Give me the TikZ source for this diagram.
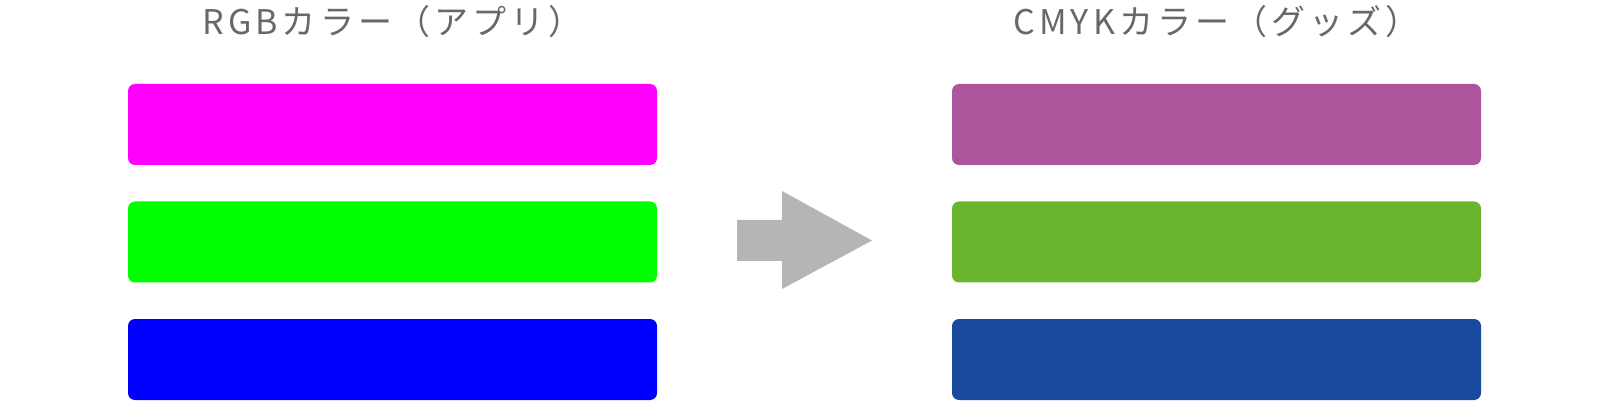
\documentclass[tikz,border=0pt]{standalone}
\usepackage{fontspec}
\setmainfont{Noto Sans CJK JP}
\newfontfamily\titlefont[LetterSpace=12]{Noto Sans CJK JP}
\definecolor{titlegray}{HTML}{686868}
\definecolor{arrowgray}{HTML}{B5B5B5}
\definecolor{rgbm}{HTML}{FF00FF}
\definecolor{rgbg}{HTML}{00FF00}
\definecolor{rgbb}{HTML}{0000FF}
\definecolor{cmykm}{HTML}{AC559C}
\definecolor{cmykg}{HTML}{6BB52E}
\definecolor{cmykb}{HTML}{1A4A9C}
\begin{document}
\begin{tikzpicture}[x=1pt,y=-1pt,
  bar/.style={rounded corners=7pt, minimum width=529pt, minimum height=81pt, inner sep=0pt, draw=none},
  title/.style={text=titlegray, font=\titlefont\fontsize{34}{38}\selectfont, anchor=base, inner sep=0pt}]
\useasboundingbox (0,0) rectangle (1610,406);
\node[title] (t1) at (392.5,35) {RGBカラー（アプリ）};
\node[title] (t2) at (1216.5,35) {CMYKカラー（グッズ）};
\node[bar, fill=rgbm] (l1) at (392.5,124.5) {};
\node[bar, fill=rgbg] (l2) at (392.5,242) {};
\node[bar, fill=rgbb] (l3) at (392.5,359.5) {};
\node[bar, fill=cmykm] (r1) at (1216.5,124.5) {};
\node[bar, fill=cmykg] (r2) at (1216.5,242) {};
\node[bar, fill=cmykb] (r3) at (1216.5,359.5) {};
\fill[arrowgray] (737,220) -- (782,220) -- (782,191) -- (872,240.5) -- (782,289) -- (782,261) -- (737,261) -- cycle;
\end{tikzpicture}
\end{document}
